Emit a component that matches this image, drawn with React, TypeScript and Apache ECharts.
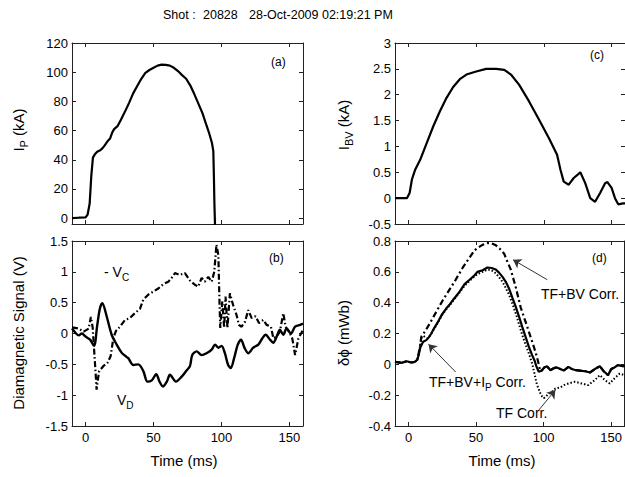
import React, { useEffect, useRef } from "react";
import * as echarts from "echarts";

// ---------- data ----------
const xTicks = [0, 50, 100, 150];
const ipTicks = [0, 20, 40, 60, 80, 100, 120];

// (a) plasma current I_P (kA)
const ipTime = [-10, -5, 0, 1.5, 3, 4.2, 5.4, 7, 8.5, 10.8, 12.5, 13.8, 16, 18, 19.5, 21, 23.5, 26, 29, 32, 35, 38, 41, 44, 47, 50, 53, 56, 59, 62, 65, 68, 71, 74, 77, 80, 83, 86, 89, 91, 93, 94, 94.4, 94.8, 95.2, 95.6];
const ipValues = [0, 0.3, 0.5, 2.5, 10, 29, 41.5, 44, 45.5, 46.5, 48, 49.5, 52.5, 54.5, 58.5, 61, 63, 67.5, 73, 79, 85.5, 90.5, 95.5, 99.5, 101.5, 103, 104.5, 105.2, 105, 104.5, 103, 100.8, 98, 95.5, 91, 85, 78.5, 72, 63.5, 58, 51.5, 46, 30, 10, -3, -40];

// (b) diamagnetic signals (V)
const vdTime = [-10, -7, -5, -2.8, 0, 3.3, 6.2, 8.6, 10.5, 12.3, 15.5, 19.2, 22.9, 26.5, 29, 31.4, 35.1, 38.8, 42.5, 45.5, 48.7, 52, 54.4, 56.9, 59.8, 62.1, 66.5, 70.7, 74.3, 76.8, 78.5, 81.7, 85.4, 89, 92.8, 95.3, 97.7, 100.1, 102.5, 104.9, 106.9, 109.3, 112, 114.4, 116.9, 119.7, 123.4, 127.1, 130, 132.5, 135.7, 138.1, 140.6, 143, 145.5, 147.9, 151.1, 154.2, 157.9, 160];
const vdValues = [0.08, 0.0, -0.03, 0.0, -0.05, -0.1, -0.2, 0.14, 0.4, 0.49, 0.28, -0.02, -0.18, -0.31, -0.36, -0.4, -0.51, -0.5, -0.61, -0.78, -0.76, -0.66, -0.78, -0.86, -0.78, -0.67, -0.78, -0.7, -0.6, -0.53, -0.35, -0.29, -0.35, -0.32, -0.26, -0.18, -0.23, -0.2, -0.32, -0.51, -0.56, -0.4, -0.18, -0.1, -0.23, -0.32, -0.23, -0.18, -0.08, -0.02, -0.1, -0.15, -0.05, 0.06, -0.02, 0.08, 0.0, 0.11, 0.14, 0.16];

const vcTime = [-10, -5.1, -1.4, 2.3, 3.9, 5.2, 6.2, 7.6, 8.1, 9, 10, 13, 16, 18.4, 20.4, 22.3, 25.3, 29, 32.6, 36.3, 40, 42.5, 46.1, 49.8, 53.5, 57.2, 60.9, 63.3, 65.8, 69.4, 73.1, 76.8, 80.4, 82.9, 85.4, 87.8, 90.3, 92.8, 94.7, 96.3, 97.7, 98.6, 99.1, 100.6, 102, 103, 104.4, 106.2, 108.6, 111.1, 112.8, 114.8, 117.3, 119.7, 122.2, 125.1, 127.6, 130.8, 133.2, 136.4, 138.2, 140.6, 143, 145.5, 147.2, 149.7, 152.1, 154.2, 156.6, 158.6, 160];
const vcValues = [0.1, 0.08, 0.03, 0.08, 0.27, 0.1, -0.24, -0.72, -0.91, -0.75, -0.61, -0.53, -0.48, -0.37, -0.08, 0.04, 0.11, 0.22, 0.25, 0.33, 0.4, 0.55, 0.63, 0.68, 0.73, 0.8, 0.84, 0.9, 0.98, 0.95, 0.98, 0.86, 0.79, 0.76, 0.9, 0.84, 0.92, 0.84, 1.0, 1.44, 1.27, 0.46, 0.09, 0.52, 0.09, 0.6, 0.09, 0.65, 0.46, 0.3, 0.14, 0.11, 0.19, 0.38, 0.25, 0.28, 0.17, 0.22, 0.14, 0.11, -0.08, -0.05, 0.03, 0.33, 0.11, 0.03, -0.08, -0.35, -0.08, 0.0, 0.06];

// (c) vertical field coil current I_BV (kA)
const bvTime = [-10, -5, -1.2, 0.8, 2.5, 4.9, 8.6, 13.5, 18.3, 23.2, 28.1, 33, 37.9, 42.8, 50, 57.4, 64.7, 70.8, 75.7, 81.8, 89.1, 96.4, 103.8, 109.8, 112.3, 114.7, 118.4, 122.1, 125.7, 127, 130.6, 134.3, 137.9, 141.6, 145.3, 147, 150.1, 152.6, 155, 158.6, 160];
const bvValues = [0, 0, 0, 0.1, 0.36, 0.55, 0.74, 1.07, 1.39, 1.68, 1.94, 2.15, 2.3, 2.39, 2.45, 2.5, 2.5, 2.48, 2.39, 2.19, 1.87, 1.52, 1.16, 0.84, 0.55, 0.32, 0.26, 0.39, 0.47, 0.5, 0.29, 0.0, -0.07, 0.1, 0.29, 0.31, 0.2, 0.0, -0.12, -0.1, -0.1];

// (d) diamagnetic flux (mWb)
const fullTime = [-10, -5, -1.4, 2, 4.7, 6.5, 7.5, 8.8, 10.8, 13.2, 15, 16.9, 19, 21.8, 24.5, 27.9, 30.3, 32.8, 35, 37.7, 41.5, 45, 48.9, 51, 54.9, 58.4, 61.5, 64.6, 67, 69.6, 72, 74.5, 77, 79.4, 81.8, 84.2, 86.6, 89.1, 91.5, 93.5, 94.5, 96.4, 98.9, 100.5, 102.5, 105, 107.5, 109.8, 112.3, 115, 118.4, 120.8, 124, 128.1, 131, 134.3, 136.8, 139, 141.6, 144.5, 147.7, 150.1, 152.5, 155, 158.7, 160];
const fullValues = [0.016, 0.01, 0.02, 0.012, 0.016, 0.03, 0.06, 0.11, 0.146, 0.157, 0.175, 0.2, 0.235, 0.275, 0.32, 0.362, 0.386, 0.416, 0.44, 0.47, 0.52, 0.547, 0.578, 0.6, 0.61, 0.628, 0.625, 0.615, 0.595, 0.567, 0.535, 0.49, 0.43, 0.373, 0.31, 0.243, 0.18, 0.113, 0.06, 0.02, -0.01, -0.049, -0.038, -0.02, -0.012, -0.038, -0.025, -0.02, -0.03, -0.04, -0.016, -0.03, -0.038, -0.042, -0.045, -0.053, -0.038, -0.025, -0.012, -0.045, -0.07, -0.03, -0.02, -0.005, -0.012, -0.01];

const tfbvTime = [-10, -5, -1.4, 2, 4.7, 6.5, 7.5, 8.8, 9.5, 12, 15.7, 20.5, 25.4, 30, 35, 40, 45, 48.9, 52, 54.7, 58.6, 61.5, 64.7, 67.5, 70.8, 73, 75.7, 79.4, 83, 87.9, 92.8, 95, 96.4, 97.5, 98.9, 100.5, 102.5, 105, 107.5, 109.8, 112.3, 115, 118.4, 120.8, 124, 128.1, 131, 134.3, 136.8, 139, 141.6, 144.5, 147.7, 150.1, 152.5, 155, 158.7, 160];
const tfbvValues = [0.016, 0.01, 0.02, 0.012, 0.016, 0.03, 0.07, 0.13, 0.18, 0.21, 0.265, 0.34, 0.416, 0.48, 0.55, 0.625, 0.69, 0.74, 0.76, 0.775, 0.787, 0.785, 0.772, 0.75, 0.718, 0.67, 0.615, 0.5, 0.37, 0.243, 0.113, 0.05, 0.0, -0.045, -0.038, -0.02, -0.012, -0.038, -0.025, -0.02, -0.03, -0.04, -0.016, -0.03, -0.038, -0.042, -0.045, -0.053, -0.038, -0.025, -0.012, -0.045, -0.07, -0.03, -0.02, -0.005, -0.012, -0.01];

const tfTime = [-10, -5, -1.4, 2, 4.7, 6.5, 7.5, 8.8, 9.5, 11, 12.5, 14, 15.5, 16.9, 19, 21.8, 24.5, 27.9, 30.3, 32.8, 35, 37.7, 41.5, 45, 48.9, 51, 54.9, 58.6, 61.5, 64.7, 67, 69.6, 72, 74.5, 77, 79.4, 81.8, 84.2, 86.6, 89.1, 91.5, 93, 95, 97.7, 99, 100.1, 101.5, 103.8, 106, 108.7, 112.3, 115, 118.4, 123.3, 128.1, 133, 137.9, 141.6, 145.3, 148.9, 152.6, 156.3, 160];
const tfValues = [0.016, 0.01, 0.02, 0.012, 0.016, 0.03, 0.07, 0.13, 0.17, 0.185, 0.175, 0.17, 0.18, 0.2, 0.23, 0.27, 0.315, 0.357, 0.381, 0.41, 0.435, 0.465, 0.51, 0.54, 0.57, 0.585, 0.6, 0.615, 0.61, 0.59, 0.565, 0.535, 0.495, 0.45, 0.39, 0.33, 0.26, 0.19, 0.13, 0.07, 0.006, -0.05, -0.13, -0.19, -0.21, -0.22, -0.21, -0.19, -0.18, -0.157, -0.15, -0.135, -0.124, -0.113, -0.124, -0.135, -0.102, -0.07, -0.102, -0.124, -0.09, -0.06, -0.07];

// annotation arrows (tail -> head) in panel (d) data space
const arrowTFBV = [[102.7, 0.549], [77.4, 0.678]];
const arrowFull = [[34.9, -0.05], [14.8, 0.131]];
const arrowTF = [[96.4, -0.297], [108.7, -0.167]];

// ---------- helpers ----------
const FONT = "'Liberation Sans', Arial, Helvetica, sans-serif";
const zip = (t: number[], v: number[]) => t.map((x, i) => [x, v[i]]);

const grids = [
  { left: 72, top: 43, width: 231, height: 181 },
  { left: 72, top: 241, width: 231, height: 185 },
  { left: 395, top: 43, width: 232, height: 181 },
  { left: 395, top: 241, width: 232, height: 185 },
];

const AX = "#222";

function xAxes(gridIndex: number, showLabels: boolean) {
  const base = {
    type: "value",
    gridIndex,
    min: -10,
    max: 160,
    splitLine: { show: false },
    axisLine: { show: true, onZero: false, lineStyle: { color: AX, width: 1 } },
    axisTick: { show: true, inside: true, length: 4, customValues: xTicks, lineStyle: { color: AX } },
  };
  return [
    {
      ...base,
      position: "bottom",
      axisLabel: { show: showLabels, customValues: xTicks, margin: 5, color: "#000", fontSize: 13, fontFamily: FONT },
    },
    { ...base, position: "top", axisLabel: { show: false } },
  ];
}

function yAxes(gridIndex: number, min: number, max: number, interval?: number, custom?: number[]) {
  const tick: any = { show: true, inside: true, length: 4, lineStyle: { color: AX } };
  const label: any = { show: true, margin: 4, color: "#000", fontSize: 13, fontFamily: FONT };
  if (custom) {
    tick.customValues = custom;
    label.customValues = custom;
  }
  const base: any = {
    type: "value",
    gridIndex,
    min,
    max,
    splitLine: { show: false },
    axisLine: { show: true, onZero: false, lineStyle: { color: AX, width: 1 } },
    axisTick: tick,
  };
  if (interval !== undefined) base.interval = interval;
  return [
    { ...base, position: "left", axisLabel: label },
    { ...base, position: "right", axisLabel: { show: false } },
  ];
}

const sub = (main: string, s: string, rest = "") =>
  `{a|${main}}{s|${s}}` + (rest ? `{a|${rest}}` : "");

function richText(x: number, y: number, text: string, size: number, opts: any = {}) {
  return {
    type: "text",
    x,
    y,
    rotation: opts.rotation || 0,
    silent: true,
    style: {
      text,
      fill: "#000",
      font: `${size}px ${FONT}`,
      align: opts.align || "left",
      verticalAlign: "middle",
      rich: {
        a: { fontSize: size, fontFamily: FONT, fill: "#000" },
        s: { fontSize: Math.round(size * 0.72), fontFamily: FONT, fill: "#000", padding: [Math.round(size * 0.7), 0, 0, 0] },
      },
    },
  };
}

function plainText(x: number, y: number, text: string, size: number, align = "left", rotation = 0) {
  return {
    type: "text",
    x,
    y,
    rotation,
    silent: true,
    style: { text, fill: "#000", font: `${size}px ${FONT}`, align, verticalAlign: "middle" },
  };
}

const arrowLine = (a: number[][]) => [{ coord: a[0] }, { coord: a[1] }];

export default function App() {
  const ref = useRef<HTMLDivElement>(null);

  useEffect(() => {
    if (!ref.current) return;
    const chart = echarts.init(ref.current, undefined, { renderer: "svg" });

    const lineBase = { type: "line", showSymbol: false, symbol: "none", clip: true, animation: false, silent: true };

    const option: any = {
      animation: false,
      backgroundColor: "#fff",
      grid: grids,
      xAxis: [...xAxes(0, false), ...xAxes(1, true), ...xAxes(2, false), ...xAxes(3, true)],
      yAxis: [
        ...yAxes(0, -4, 120, undefined, ipTicks),
        ...yAxes(1, -1.5, 1.5, 0.5),
        ...yAxes(2, -0.5, 3, 0.5),
        ...yAxes(3, -0.4, 0.8, 0.2),
      ],
      series: [
        { ...lineBase, name: "IP", xAxisIndex: 0, yAxisIndex: 0, data: zip(ipTime, ipValues), lineStyle: { color: "#000", width: 2.2 } },
        { ...lineBase, name: "-VC", xAxisIndex: 2, yAxisIndex: 2, data: zip(vcTime, vcValues), lineStyle: { color: "#000", width: 2.2, type: [6, 2.5, 1.5, 2.5] } },
        { ...lineBase, name: "VD", xAxisIndex: 2, yAxisIndex: 2, smooth: 0.3, data: zip(vdTime, vdValues), lineStyle: { color: "#000", width: 2.4 } },
        { ...lineBase, name: "IBV", xAxisIndex: 4, yAxisIndex: 4, data: zip(bvTime, bvValues), lineStyle: { color: "#000", width: 2.2 } },
        { ...lineBase, name: "TF Corr.", xAxisIndex: 6, yAxisIndex: 6, data: zip(tfTime, tfValues), lineStyle: { color: "#000", width: 2, type: [1.5, 2] } },
        { ...lineBase, name: "TF+BV Corr.", xAxisIndex: 6, yAxisIndex: 6, data: zip(tfbvTime, tfbvValues), lineStyle: { color: "#000", width: 2.2, type: [6, 3, 2, 3] } },
        {
          ...lineBase,
          name: "TF+BV+IP Corr.",
          xAxisIndex: 6,
          yAxisIndex: 6,
          data: zip(fullTime, fullValues),
          lineStyle: { color: "#000", width: 2.2 },
          markLine: {
            silent: true,
            animation: false,
            symbol: ["none", "arrow"],
            symbolSize: 8,
            label: { show: false },
            emphasis: { disabled: true },
            lineStyle: { color: "#333", width: 1, type: "solid" },
            data: [arrowLine(arrowTFBV), arrowLine(arrowFull), arrowLine(arrowTF)],
          },
        },
      ],
      graphic: [
        plainText(163, 15, "Shot :", 12.5),
        plainText(203, 15, "20828", 12.5),
        plainText(249, 15, "28-Oct-2009 02:19:21 PM", 12.5),
        plainText(271, 62, "(a)", 12),
        plainText(269, 258, "(b)", 12),
        plainText(590, 55, "(c)", 12),
        plainText(592, 258, "(d)", 12),
        richText(104, 272, sub("- V", "C"), 14),
        richText(117, 400, sub("V", "D"), 14),
        plainText(541, 294, "TF+BV Corr.", 14),
        richText(429, 382, sub("TF+BV+I", "P", " Corr."), 14),
        plainText(496, 413, "TF Corr.", 14),
        richText(18, 130, sub("I", "P", " (kA)"), 15, { rotation: Math.PI / 2, align: "center" }),
        plainText(18, 333, "Diamagnetic Signal (V)", 15, "center", Math.PI / 2),
        richText(343, 125, sub("I", "BV", " (kA)"), 15, { rotation: Math.PI / 2, align: "center" }),
        plainText(343, 333, "δϕ (mWb)", 15, "center", Math.PI / 2),
        plainText(184, 460, "Time (ms)", 15, "center"),
        plainText(502, 460, "Time (ms)", 15, "center"),
      ],
    };

    chart.setOption(option);
    return () => chart.dispose();
  }, []);

  return (
    <div
      ref={ref}
      style={{ position: "fixed", left: 0, top: 0, width: 625, height: 477, background: "#fff" }}
    />
  );
}
